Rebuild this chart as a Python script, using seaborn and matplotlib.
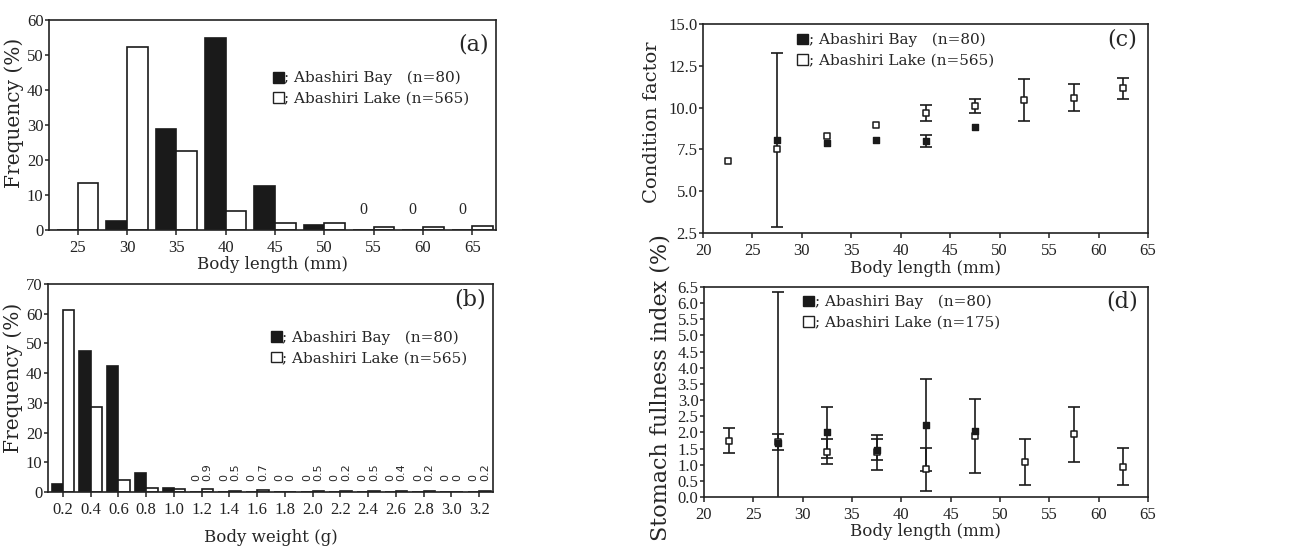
import numpy as np
import pandas as pd
import matplotlib
matplotlib.use("Agg")
import matplotlib.pyplot as plt
from matplotlib.patches import Patch
import seaborn as sns

# ---- data -------------------------------------------------------------
sites = ["Abashiri Bay", "Abashiri Lake"]

# (a) body-length frequency (%)
length_bins = [25, 30, 35, 40, 45, 50, 55, 60, 65]
length_freq_bay = [0.0, 2.6, 29.0, 55.0, 12.6, 1.3, 0.0, 0.0, 0.0]
length_freq_lake = [13.5, 52.2, 22.5, 5.4, 1.9, 2.0, 1.0, 0.8, 1.2]
length_zero_labels = [55, 60, 65]

# (b) body-weight frequency (%)
weight_bins = [0.2, 0.4, 0.6, 0.8, 1.0, 1.2, 1.4, 1.6, 1.8, 2.0, 2.2, 2.4, 2.6, 2.8, 3.0, 3.2]
weight_freq_bay = [2.6, 47.5, 42.5, 6.3, 1.3, 0, 0, 0, 0, 0, 0, 0, 0, 0, 0, 0]
weight_freq_lake = [61.2, 28.5, 4.2, 1.3, 0.9, 0.9, 0.5, 0.7, 0, 0.5, 0.2, 0.5, 0.4, 0.2, 0, 0.2]
weight_label_start = 1.2

# (c) condition factor: mean and SD by body-length class
cf_bay_x = [27.5, 32.5, 37.5, 42.5, 47.5]
cf_bay_mean = [8.05, 7.9, 8.05, 8.0, 8.85]
cf_bay_sd = [5.2, np.nan, np.nan, 0.37, np.nan]
cf_lake_x = [22.5, 27.5, 32.5, 37.5, 42.5, 47.5, 52.5, 57.5, 62.5]
cf_lake_mean = [6.8, 7.55, 8.3, 8.95, 9.7, 10.1, 10.45, 10.6, 11.15]
cf_lake_sd = [np.nan, np.nan, np.nan, np.nan, 0.48, 0.4, 1.25, 0.8, 0.65]

# (d) stomach fullness index (%): mean and SD by body-length class
sf_bay_x = [27.5, 32.5, 37.5, 42.5, 47.5]
sf_bay_mean = [1.66, 2.0, 1.46, 2.23, 2.03]
sf_bay_sd = [4.67, 0.78, 0.32, 1.41, np.nan]
sf_lake_x = [22.5, 27.5, 32.5, 37.5, 42.5, 47.5, 52.5, 57.5, 62.5]
sf_lake_mean = [1.74, 1.70, 1.40, 1.38, 0.86, 1.88, 1.08, 1.94, 0.94]
sf_lake_sd = [0.39, 0.24, 0.39, 0.53, 0.66, 1.14, 0.72, 0.85, 0.57]

n_bay = 80
n_lake_size = 565
n_lake_stomach = 175

# ---- style ------------------------------------------------------------
sns.set_style("ticks")
plt.rcParams["font.family"] = ["DejaVu Serif"]
plt.rcParams["axes.linewidth"] = 1.2
plt.rcParams["xtick.major.width"] = 1.1
plt.rcParams["ytick.major.width"] = 1.1
plt.rcParams["xtick.major.size"] = 3.5
plt.rcParams["ytick.major.size"] = 3
plt.rcParams["xtick.direction"] = "out"
plt.rcParams["ytick.direction"] = "out"
plt.rcParams["axes.edgecolor"] = "#222222"

TICK_FONT = dict(family="Liberation Serif", size=12)
XLABEL_FONT = dict(family="DejaVu Serif", size=12)
LEG_FONT = dict(family="DejaVu Serif", size=11)

palette = {sites[0]: "#1a1a1a", sites[1]: "white"}

fig = plt.figure(figsize=(13.06, 5.47), dpi=100)
W, H = 1306, 547


def place(l, r, t, b):
    return fig.add_axes([l / W, 1 - b / H, (r - l) / W, (b - t) / H])


ax_a = place(49, 496, 20, 230)
ax_b = place(48, 493, 284, 492)
ax_c = place(703, 1148, 24, 233)
ax_d = place(704, 1148, 287, 497)


def style_ticks(ax):
    for lab in ax.get_xticklabels() + ax.get_yticklabels():
        lab.set_fontfamily(TICK_FONT["family"])
        lab.set_fontsize(TICK_FONT["size"])
    ax.tick_params(colors="#222222")
    ax.tick_params(axis="x", pad=3.5)
    ax.tick_params(axis="y", pad=1)


def add_legend(ax, n_lake, x, y):
    handles = [Patch(facecolor="#1a1a1a", edgecolor="#1a1a1a", linewidth=1.0),
               Patch(facecolor="white", edgecolor="#222222", linewidth=1.0)]
    labels = [f"; {sites[0]}   (n={n_bay})", f"; {sites[1]} (n={n_lake})"]
    leg = ax.legend(handles, labels, loc="upper left", bbox_to_anchor=(x, y),
                    frameon=False, handlelength=0.72, handleheight=0.72,
                    handletextpad=0.05, labelspacing=0.4, borderaxespad=0,
                    borderpad=0, prop=LEG_FONT)
    return leg


def panel_tag(ax, tag, x, y):
    ax.text(x, y, tag, transform=ax.transAxes, ha="right", va="center",
            fontsize=16, family="DejaVu Serif")


# ---- (a) body length histogram ---------------------------------------
df_a = pd.DataFrame({
    "length": length_bins * 2,
    "freq": length_freq_bay + length_freq_lake,
    "site": [sites[0]] * len(length_bins) + [sites[1]] * len(length_bins),
})
sns.barplot(data=df_a, x="length", y="freq", hue="site", order=length_bins,
            hue_order=sites, palette=palette, width=0.84, edgecolor="#1a1a1a",
            linewidth=1.2, legend=False, ax=ax_a, errorbar=None)
ax_a.set_xlim(-0.58, len(length_bins) - 1 + 0.48)
ax_a.set_ylim(0, 60)
ax_a.set_yticks(np.arange(0, 61, 10))
ax_a.set_xticks(range(len(length_bins)))
ax_a.set_xticklabels([str(v) for v in length_bins])
ax_a.set_xlabel("Body length (mm)", labelpad=0, **XLABEL_FONT)
ax_a.set_ylabel("Frequency (%)", labelpad=2, family="DejaVu Serif", size=14.5)
ax_a.yaxis.label.set_y(0.56)
for v in length_zero_labels:
    i = length_bins.index(v)
    ax_a.text(i - 0.21, 3.4, "0", ha="center", va="bottom", fontsize=11.5,
              family="Liberation Serif")
add_legend(ax_a, n_lake_size, 0.5, 0.757)
panel_tag(ax_a, "(a)", 0.985, 0.885)
style_ticks(ax_a)

# ---- (b) body weight histogram ---------------------------------------
df_b = pd.DataFrame({
    "weight": weight_bins * 2,
    "freq": weight_freq_bay + weight_freq_lake,
    "site": [sites[0]] * len(weight_bins) + [sites[1]] * len(weight_bins),
})
sns.barplot(data=df_b, x="weight", y="freq", hue="site", order=weight_bins,
            hue_order=sites, palette=palette, width=0.82, edgecolor="#1a1a1a",
            linewidth=1.2, legend=False, ax=ax_b, errorbar=None)
ax_b.set_xlim(-0.54, len(weight_bins) - 1 + 0.5)
ax_b.set_ylim(0, 70)
ax_b.set_yticks(np.arange(0, 71, 10))
ax_b.set_xticks(range(len(weight_bins)))
ax_b.set_xticklabels([f"{v:.1f}" for v in weight_bins])
ax_b.set_xlabel("Body weight (g)", labelpad=8, **XLABEL_FONT)
ax_b.set_ylabel("Frequency (%)", labelpad=2, family="DejaVu Serif", size=14.5)
ax_b.yaxis.label.set_y(0.55)
for i, w in enumerate(weight_bins):
    if w < weight_label_start - 1e-9:
        continue
    for off, val in ((-0.205, weight_freq_bay[i]), (0.205, weight_freq_lake[i])):
        ax_b.text(i + off, 3.6, f"{val:g}", rotation=90, ha="center",
                  va="bottom", fontsize=8, family="DejaVu Sans")
add_legend(ax_b, n_lake_size, 0.5, 0.775)
panel_tag(ax_b, "(b)", 0.985, 0.925)
style_ticks(ax_b)


# ---- (c), (d) mean +/- SD by length class ----------------------------
def mean_sd_panel(ax, bx, bm, bs, lx, lm, ls):
    ax.errorbar(lx, lm, yerr=ls, fmt="none", ecolor="#1a1a1a", elinewidth=1.2,
                capsize=4, capthick=1.2, zorder=2)
    ax.errorbar(bx, bm, yerr=bs, fmt="none", ecolor="#1a1a1a", elinewidth=1.2,
                capsize=4, capthick=1.2, zorder=2)
    d_lake = pd.DataFrame({"x": lx, "y": lm})
    d_bay = pd.DataFrame({"x": bx, "y": bm})
    sns.scatterplot(data=d_lake, x="x", y="y", marker="s", s=16,
                    color="white", edgecolor="#1a1a1a", linewidth=1.1,
                    ax=ax, zorder=3)
    sns.scatterplot(data=d_bay, x="x", y="y", marker="s", s=18,
                    color="#1a1a1a", edgecolor="#1a1a1a", linewidth=1.0,
                    ax=ax, zorder=4)
    ax.set_xlim(20, 65)
    ax.set_xticks(np.arange(20, 66, 5))


mean_sd_panel(ax_c, cf_bay_x, cf_bay_mean, cf_bay_sd,
              cf_lake_x, cf_lake_mean, cf_lake_sd)
ax_c.set_ylim(2.5, 15.0)
ct = np.arange(2.5, 15.01, 2.5)
ax_c.set_yticks(ct)
ax_c.set_yticklabels([f"{v:.1f}" for v in ct])
ax_c.set_xlabel("Body length (mm)", labelpad=1, **XLABEL_FONT)
ax_c.set_ylabel("Condition factor", labelpad=5, family="DejaVu Serif", size=14)
ax_c.yaxis.label.set_y(0.53)
add_legend(ax_c, n_lake_size, 0.211, 0.957)
panel_tag(ax_c, "(c)", 0.975, 0.925)
style_ticks(ax_c)

mean_sd_panel(ax_d, sf_bay_x, sf_bay_mean, sf_bay_sd,
              sf_lake_x, sf_lake_mean, sf_lake_sd)
ax_d.set_ylim(0, 6.5)
yt = np.arange(0, 6.51, 0.5)
ax_d.set_yticks(yt)
ax_d.set_yticklabels([f"{v:.1f}" for v in yt])
ax_d.set_xlabel("Body length (mm)", labelpad=0, **XLABEL_FONT)
ax_d.set_ylabel("Stomach fullness index (%)", labelpad=4,
                family="DejaVu Serif", size=16)
ax_d.yaxis.label.set_y(0.52)
add_legend(ax_d, n_lake_stomach, 0.223, 0.962)
panel_tag(ax_d, "(d)", 0.978, 0.93)
style_ticks(ax_d)

fig.savefig("out.png", dpi=100)
